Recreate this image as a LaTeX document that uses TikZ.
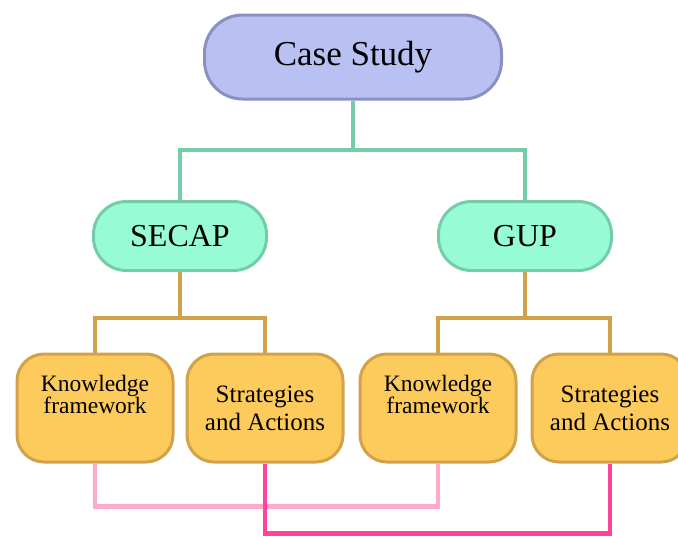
\documentclass[tikz,border=0pt]{standalone}
\usepackage{fontspec}
\setmainfont{Liberation Serif}
\usepackage{xcolor}
\usepackage{tikz}
\usetikzlibrary{backgrounds}

\definecolor{caseFill}{HTML}{B9C0F2}
\definecolor{caseLine}{HTML}{8A90C2}
\definecolor{planFill}{HTML}{97FCD6}
\definecolor{planLine}{HTML}{74CDA8}
\definecolor{partFill}{HTML}{FDCB5C}
\definecolor{partLine}{HTML}{D2A24A}
\definecolor{linkLight}{HTML}{FFAACC}
\definecolor{linkHot}{HTML}{FF4499}

\begin{document}
\begin{tikzpicture}[x=1pt, y=-1pt,
    casebox/.style={draw=caseLine, fill=caseFill, line width=3pt, rounded corners=38pt,
        minimum width=297pt, minimum height=84pt, font=\fontsize{35}{40}\selectfont},
    planbox/.style={draw=planLine, fill=planFill, line width=3pt, rounded corners=33pt,
        minimum width=173pt, minimum height=69pt, font=\fontsize{32}{36}\selectfont},
    partbox/.style={draw=partLine, fill=partFill, line width=3pt, rounded corners=27pt,
        minimum width=156pt, minimum height=108pt, align=center},
    planlink/.style={draw=planLine, line width=4.5pt},
    partlink/.style={draw=partLine, line width=4.5pt}]
        \useasboundingbox (0,0) rectangle (678,536);

        \node[casebox] (case) at (353,57) {Case Study};
        \node[planbox] (secap) at (180,236) {SECAP};
        \node[planbox] (gup) at (525,236) {GUP};

        \node[partbox, font=\fontsize{23.5}{22}\selectfont] (know1) at (95,408) {Knowledge\\framework\\[6pt]};
        \node[partbox, font=\fontsize{25}{28}\selectfont] (strat1) at (265,408) {Strategies\\and Actions};
        \node[partbox, font=\fontsize{23.5}{22}\selectfont] (know2) at (438,408) {Knowledge\\framework\\[6pt]};
        \node[partbox, font=\fontsize{25}{28}\selectfont] (strat2) at (610,408) {Strategies\\and Actions};

        \begin{scope}[on background layer]
        \draw[planlink] (case.south) -- ++(0,50);
        \draw[planlink] (secap.north) -- ++(0,-50) -| (gup.north);
        \draw[partlink] (secap.south) -- ++(0,46) -| (know1.north);
        \draw[partlink] (secap.south) -- ++(0,46) -| (strat1.north);
        \draw[partlink] (gup.south) -- ++(0,46) -| (know2.north);
        \draw[partlink] (gup.south) -- ++(0,46) -| (strat2.north);
        \draw[draw=linkLight, line width=4.5pt] (know1.south) -- ++(0,43) -| (know2.south);
        \draw[draw=linkHot, line width=4.5pt] (strat1.south) -- ++(0,70) -| (strat2.south);
        \end{scope}
    \end{tikzpicture}
\end{document}
